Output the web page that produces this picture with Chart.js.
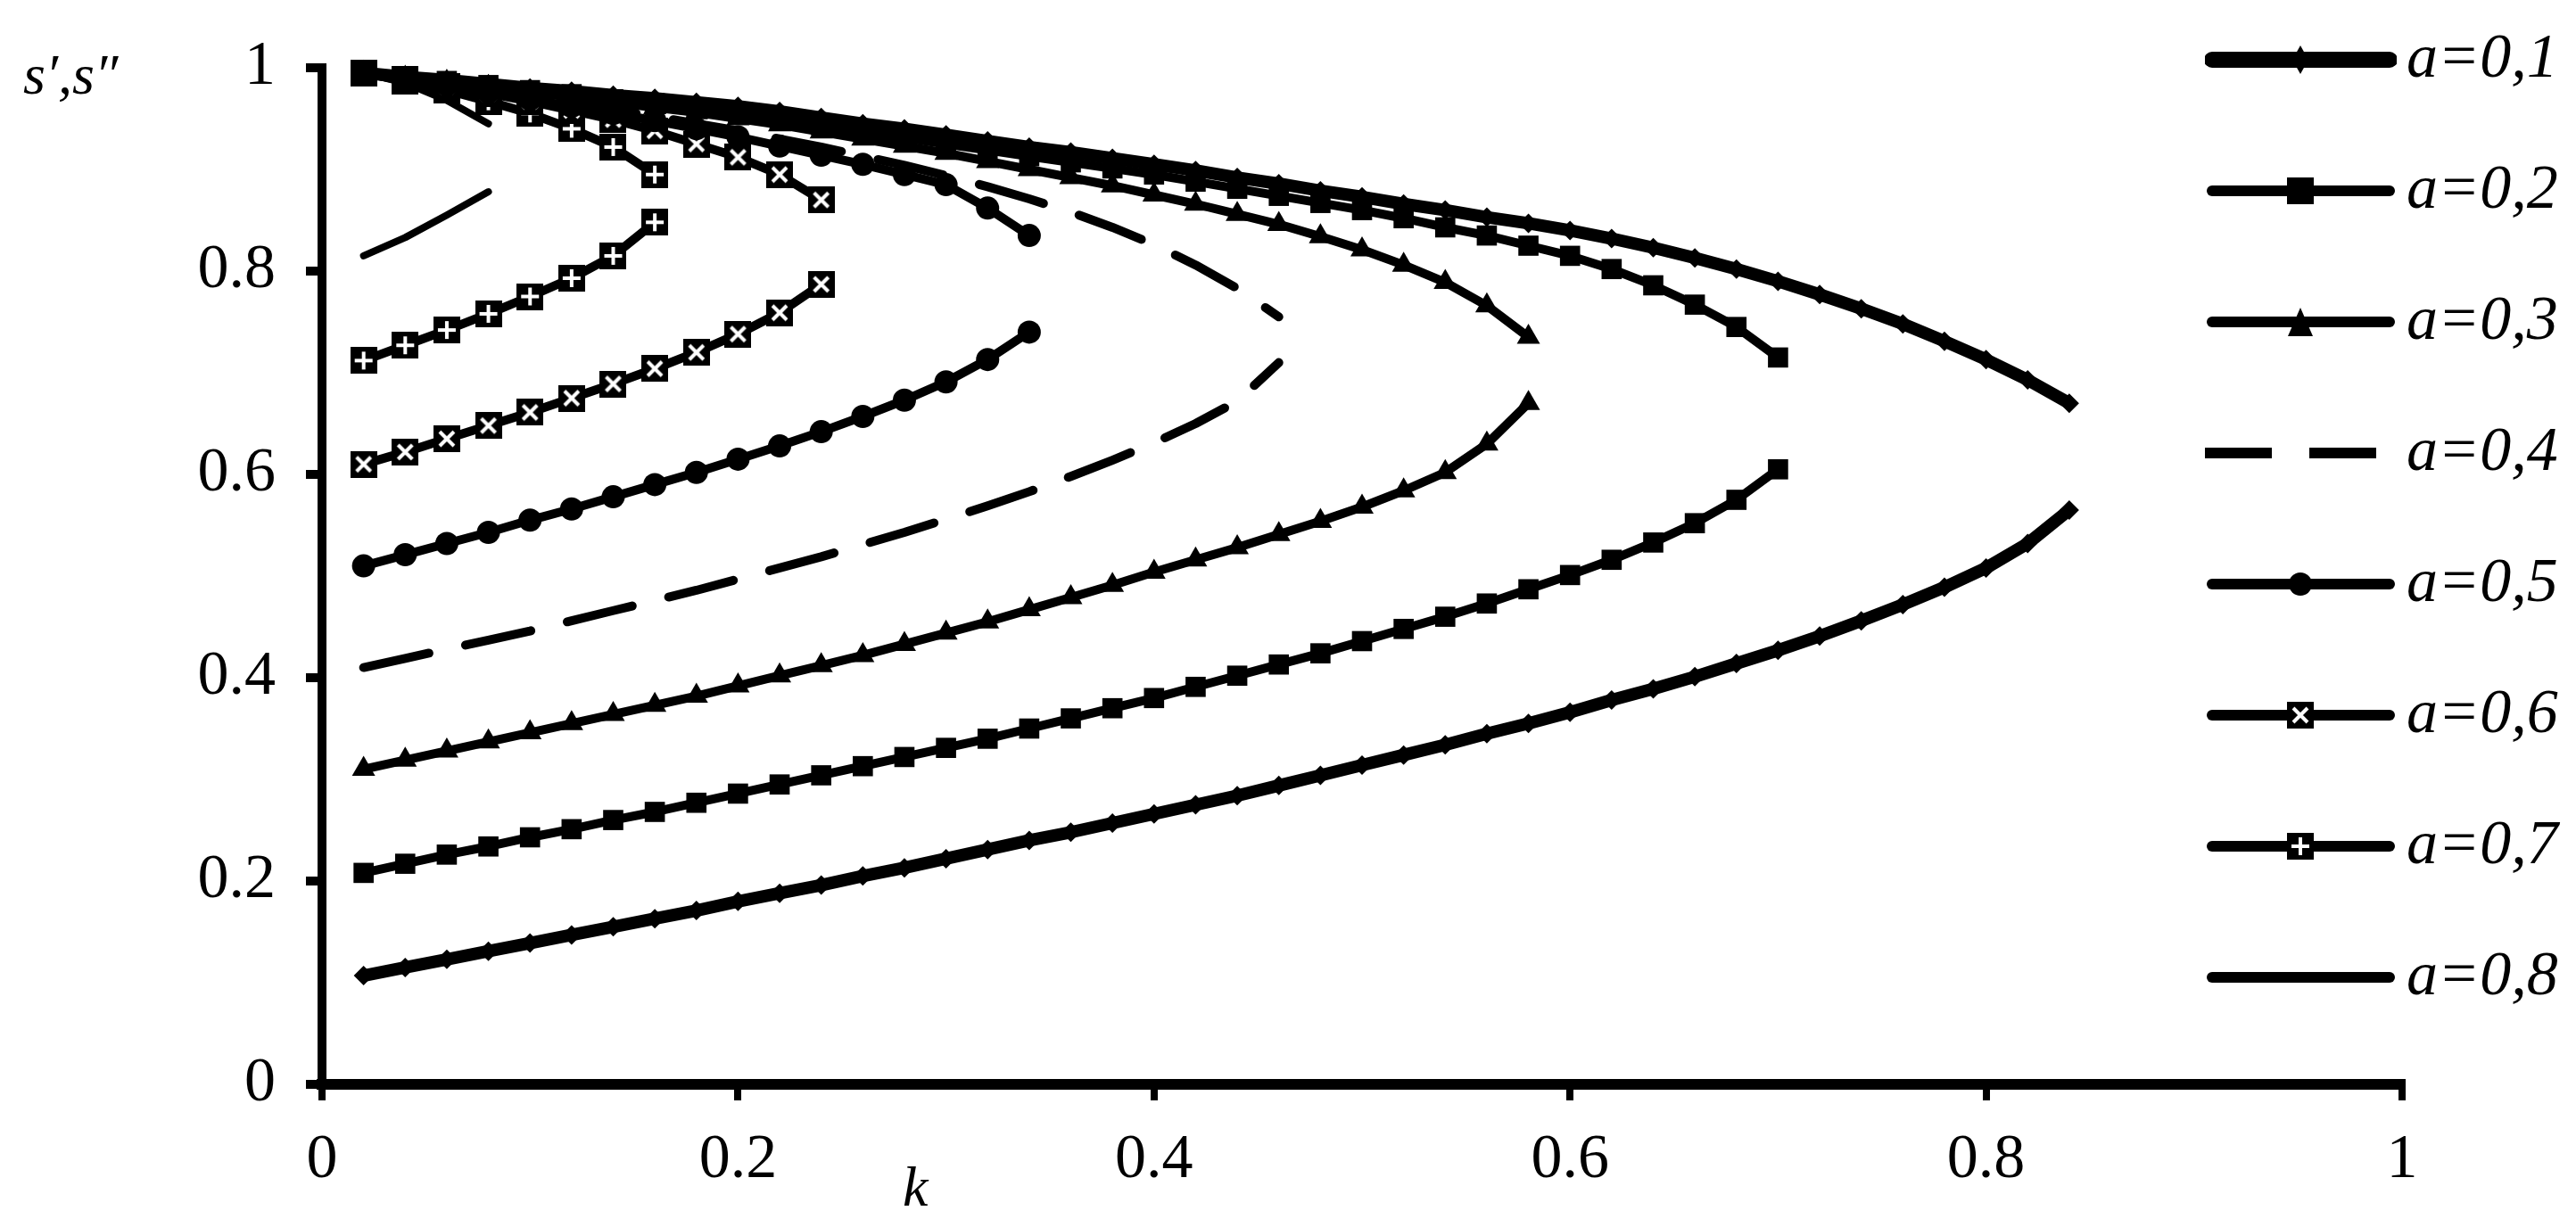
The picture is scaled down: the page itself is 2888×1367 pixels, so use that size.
<!DOCTYPE html>
<html>
<head>
<meta charset="utf-8">
<script src="https://cdn.jsdelivr.net/npm/chart.js@4.4.0/dist/chart.umd.min.js"></script>
<style>
  html, body { margin: 0; padding: 0; background: #fff; }
  #wrap { position: relative; width: 2888px; height: 1367px; }
  #legend { position: absolute; left: 2472px; top: 0; }
  .entry { position: absolute; left: 0; width: 420px; height: 80px; }
  .entry canvas { position: absolute; left: 0; top: 20px; }
  .entry span { position: absolute; left: 226px; top: -4px; font: italic 70px "Liberation Serif", "Times New Roman", serif; color: #000; white-space: nowrap; }
</style>
</head>
<body>
<div id="wrap">
  <canvas id="chart" width="2888" height="1367"></canvas>
  <div id="legend"></div>
</div>
<script>
const K = [0.02,0.04,0.06,0.08,0.10,0.12,0.14,0.16,0.18,0.20,0.22,0.24,0.26,0.28,0.30,0.32,0.34,0.36,0.38,0.40,
           0.42,0.44,0.46,0.48,0.50,0.52,0.54,0.56,0.58,0.60,0.62,0.64,0.66,0.68,0.70,0.72,0.74,0.76,0.78,0.80,0.82,0.84];

const labels = ["a=0,1","a=0,2","a=0,3","a=0,4","a=0,5","a=0,6","a=0,7","a=0,8"];

// lower branch s'' and upper branch s' for each a
const low1 = [0.107,0.115,0.123,0.131,0.139,0.147,0.155,0.163,0.171,0.180,0.188,0.196,0.205,0.213,0.222,0.231,0.240,0.248,0.257,0.266,
              0.275,0.284,0.294,0.304,0.314,0.324,0.334,0.345,0.355,0.366,0.378,0.389,0.401,0.414,0.427,0.441,0.456,0.472,0.489,0.508,0.532,0.565];
const up1  = [0.995,0.991,0.988,0.984,0.980,0.977,0.973,0.970,0.966,0.962,0.957,0.951,0.945,0.940,0.934,0.928,0.922,0.917,0.911,0.905,
              0.899,0.892,0.886,0.879,0.873,0.866,0.860,0.853,0.847,0.840,0.832,0.823,0.813,0.802,0.790,0.777,0.763,0.748,0.731,0.713,0.693,0.670];
const low2 = [0.208,0.217,0.226,0.234,0.243,0.251,0.260,0.268,0.277,0.286,0.295,0.304,0.313,0.322,0.331,0.340,0.350,0.360,0.370,0.380,
              0.391,0.402,0.413,0.424,0.436,0.448,0.460,0.473,0.487,0.501,0.516,0.533,0.552,0.575,0.605];
const up2  = [0.995,0.991,0.987,0.983,0.978,0.974,0.969,0.965,0.960,0.955,0.949,0.943,0.937,0.931,0.925,0.919,0.913,0.907,0.901,0.895,
              0.888,0.881,0.874,0.867,0.860,0.852,0.843,0.835,0.825,0.815,0.802,0.786,0.767,0.745,0.715];
const low3 = [0.310,0.319,0.328,0.337,0.346,0.355,0.364,0.373,0.382,0.392,0.402,0.412,0.422,0.433,0.444,0.455,0.467,0.479,0.491,0.504,
              0.516,0.528,0.541,0.554,0.568,0.584,0.602,0.630,0.670];
const up3  = [0.995,0.990,0.986,0.981,0.976,0.971,0.966,0.961,0.956,0.950,0.944,0.937,0.930,0.923,0.916,0.908,0.900,0.892,0.884,0.875,
              0.866,0.856,0.846,0.834,0.821,0.806,0.789,0.766,0.735];
const low4 = [0.410,0.419,0.428,0.437,0.446,0.456,0.466,0.476,0.486,0.497,0.508,0.519,0.531,0.543,0.556,0.569,0.583,0.598,0.614,0.631,
              0.650,0.672,0.710];
const up4  = [0.995,0.989,0.983,0.977,0.971,0.965,0.959,0.952,0.945,0.938,0.930,0.922,0.913,0.904,0.894,0.883,0.871,0.858,0.843,0.826,
              0.806,0.783,0.755];
const low5 = [0.510,0.521,0.532,0.543,0.555,0.566,0.578,0.590,0.602,0.615,0.628,0.642,0.657,0.673,0.691,0.713,0.740];
const up5  = [0.995,0.989,0.983,0.976,0.969,0.962,0.955,0.948,0.940,0.932,0.923,0.914,0.905,0.895,0.885,0.862,0.835];
const low6 = [0.610,0.622,0.635,0.648,0.661,0.675,0.689,0.704,0.720,0.738,0.759,0.787];
const up6  = [0.995,0.989,0.982,0.975,0.967,0.958,0.949,0.938,0.925,0.912,0.895,0.870];
const low7 = [0.712,0.727,0.742,0.758,0.775,0.793,0.815,0.848];
const up7  = [0.995,0.987,0.978,0.967,0.955,0.940,0.922,0.895];
const low8 = [0.815,0.833,0.855,0.878];
const up8  = [0.995,0.985,0.968,0.945];

const xTicks = [0, 0.2, 0.4, 0.6, 0.8, 1];
const yTicks = [0, 0.2, 0.4, 0.6, 0.8, 1];

function markSquare(kind) {
    const c = document.createElement("canvas");
    c.width = 30; c.height = 30;
    const g = c.getContext("2d");
    g.fillStyle = "#000";
    g.fillRect(0, 0, 30, 30);
    g.strokeStyle = "#fff";
    g.lineWidth = 4;
    g.beginPath();
    if (kind === "x") {
        g.moveTo(7, 7); g.lineTo(23, 23); g.moveTo(23, 7); g.lineTo(7, 23);
    } else {
        g.moveTo(15, 5); g.lineTo(15, 25); g.moveTo(5, 15); g.lineTo(25, 15);
    }
    g.stroke();
    return c;
}

const styles = [
    { width: 14, point: "rectRot", radius: 11 },
    { width: 10, point: "rect", radius: 16 },
    { width: 10, point: "triangle", radius: 15 },
    { width: 10, point: false, radius: 0, dash: [75, 42] },
    { width: 10, point: "circle", radius: 13 },
    { width: 10, point: markSquare("x"), radius: 15 },
    { width: 10, point: markSquare("+"), radius: 15 },
    { width: 8, point: false, radius: 0 }
];

const lows = [low1, low2, low3, low4, low5, low6, low7, low8];
const ups = [up1, up2, up3, up4, up5, up6, up7, up8];

const datasets = [];
lows.forEach((low, i) => {
    [low, ups[i]].forEach((branch, b) => {
        const st = styles[i];
        datasets.push({
            label: labels[i] + (b ? " up" : ""),
            data: branch.map((v, j) => ({ x: K[j], y: v })),
            showLine: true,
            borderColor: "#000",
            backgroundColor: "#000",
            borderWidth: st.width,
            borderDash: st.dash || [],
            borderCapStyle: "round",
            borderJoinStyle: "round",
            pointStyle: st.point,
            pointRadius: st.radius,
            pointBorderWidth: 0,
            pointBackgroundColor: "#000",
            tension: 0,
            clip: false
        });
    });
});

const titles = {
    id: "titles",
    afterDraw(chart) {
        const ctx = chart.ctx;
        ctx.save();
        ctx.fillStyle = "#000";
        ctx.font = 'italic 64px "Liberation Serif", "Times New Roman", serif';
        ctx.textBaseline = "middle";
        ctx.fillText("s\u2032,s\u2033", 26, 88);
        ctx.fillText("k", 1012, 1335);
        ctx.restore();
    }
};

new Chart(document.getElementById("chart"), {
    type: "scatter",
    data: { datasets: datasets },
    options: {
        responsive: false,
        animation: false,
        events: [],
        layout: { padding: { top: 32, right: 195, left: 0, bottom: 0 } },
        plugins: { legend: { display: false }, tooltip: { enabled: false } },
        scales: {
            x: {
                type: "linear", min: 0, max: 1,
                afterBuildTicks: (s) => { s.ticks = xTicks.map(v => ({ value: v })); },
                afterFit: (s) => { s.height = 151; },
                ticks: { color: "#000", padding: 26, font: { family: "Liberation Serif", size: 70 }, callback: v => String(v) },
                grid: { drawOnChartArea: false, color: "#000", lineWidth: 8, tickLength: 18 },
                border: { color: "#000", width: 12 }
            },
            y: {
                type: "linear", min: 0, max: 1,
                afterBuildTicks: (s) => { s.ticks = yTicks.map(v => ({ value: v })); },
                afterFit: (s) => { s.width = 361; },
                ticks: { color: "#000", padding: 34, font: { family: "Liberation Serif", size: 70 }, callback: v => String(v) },
                grid: { drawOnChartArea: false, color: "#000", lineWidth: 10, tickLength: 18 },
                border: { color: "#000", width: 10 }
            }
        }
    },
    plugins: [titles]
});

// legend on the right
const legend = document.getElementById("legend");
labels.forEach((lab, i) => {
    const st = styles[i];
    const e = document.createElement("div");
    e.className = "entry";
    e.style.top = (67 - 40 + i * 147) + "px";
    const c = document.createElement("canvas");
    c.width = 215; c.height = 40;
    const g = c.getContext("2d");
    g.strokeStyle = "#000"; g.fillStyle = "#000";
    g.lineWidth = i === 0 ? 18 : 12;
    g.lineCap = st.dash ? "butt" : "round";
    g.setLineDash(st.dash ? [75, 42] : []);
    g.beginPath(); g.moveTo(st.dash ? 0 : 8, 20); g.lineTo(207, 20); g.stroke();
    const r = st.radius, cx = 107, cy = 20;
    if (st.point === "rectRot") { g.beginPath(); g.moveTo(cx, cy - 16); g.lineTo(cx + 9, cy); g.lineTo(cx, cy + 16); g.lineTo(cx - 9, cy); g.fill(); }
    else if (st.point === "rect") g.fillRect(cx - 15, cy - 15, 30, 30);
    else if (st.point === "triangle") { g.beginPath(); g.moveTo(cx, cy - 16); g.lineTo(cx + 14, cy + 16); g.lineTo(cx - 14, cy + 16); g.fill(); }
    else if (st.point === "circle") { g.beginPath(); g.arc(cx, cy, r, 0, Math.PI * 2); g.fill(); }
    else if (st.point) g.drawImage(st.point, cx - 15, cy - 15);
    e.appendChild(c);
    const s = document.createElement("span");
    s.textContent = lab;
    e.appendChild(s);
    legend.appendChild(e);
});
</script>
</body>
</html>
